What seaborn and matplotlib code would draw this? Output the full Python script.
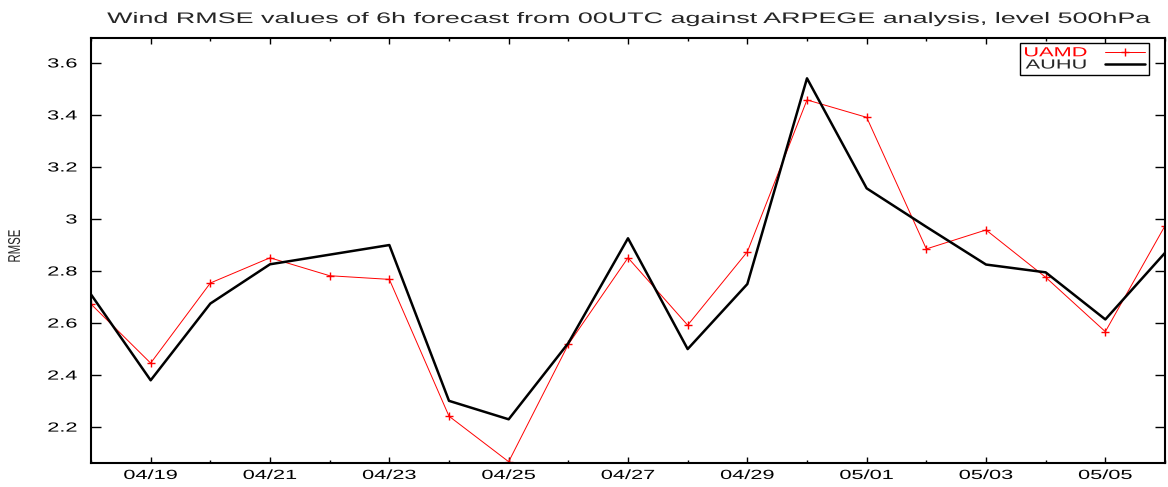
import pandas as pd
import matplotlib
matplotlib.use("Agg")
import matplotlib.pyplot as plt
import matplotlib.dates as mdates
import seaborn as sns
from matplotlib.patheffects import AbstractPathEffect
from matplotlib.ticker import MultipleLocator, FormatStrFormatter
from matplotlib.transforms import Affine2D

# data
days = ["04/18", "04/19", "04/20", "04/21", "04/22", "04/23", "04/24", "04/25",
        "04/26", "04/27", "04/28", "04/29", "04/30", "05/01", "05/02", "05/03",
        "05/04", "05/05", "05/06"]
uamd = [2.673, 2.446, 2.754, 2.851, 2.782, 2.768, 2.242, 2.067, 2.518, 2.851,
        2.592, 2.874, 3.458, 3.391, 2.885, 2.958, 2.776, 2.567, 2.974]
auhu = [2.710, 2.380, 2.675, 2.826, 2.863, 2.900, 2.301, 2.230, 2.523, 2.926,
        2.500, 2.750, 3.541, 3.118, 2.970, 2.825, 2.795, 2.614, 2.870]

title = "Wind RMSE values of 6h forecast from 00UTC against ARPEGE analysis, level 500hPa"

dates = pd.to_datetime(days, format="%m/%d")
df = pd.DataFrame({"date": dates, "UAMD": uamd, "AUHU": auhu})


# the original gnuplot image is stretched sideways, text included
class Stretch(AbstractPathEffect):
    def __init__(self, sx=1.65, anchor="center"):
        super().__init__()
        self.sx = sx
        self.anchor = anchor

    def draw_path(self, renderer, gc, tpath, affine, rgbFace=None):
        ext = tpath.get_extents(affine)
        x0 = {"left": ext.x0, "center": (ext.x0 + ext.x1) / 2, "right": ext.x1}[self.anchor]
        tr = affine + Affine2D().translate(-x0, 0).scale(self.sx, 1).translate(x0, 0)
        renderer.draw_path(gc, tpath, tr, rgbFace)


sns.set_style("ticks")
plt.rcParams["font.family"] = ["Liberation Sans", "DejaVu Sans"]

fig = plt.figure(figsize=(11.68, 4.87), dpi=100)
ax = fig.add_axes([91 / 1168, 1 - 463 / 487, 1074 / 1168, 425 / 487])

sns.lineplot(data=df, x="date", y="UAMD", ax=ax, color="red", linewidth=0.7,
             marker="+", markersize=6, markeredgecolor="red", markeredgewidth=1.0,
             label="UAMD")
sns.lineplot(data=df, x="date", y="AUHU", ax=ax, color="black", linewidth=1.8,
             label="AUHU")

ax.set_xlim(dates[0], dates[-1])
ax.set_ylim(2.062, 3.696)

ax.xaxis.set_major_locator(mdates.DayLocator(bymonthday=list(range(1, 32, 2))))
ax.xaxis.set_minor_locator(mdates.DayLocator())
ax.xaxis.set_major_formatter(mdates.DateFormatter("%m/%d"))
ax.yaxis.set_major_locator(MultipleLocator(0.2))
ax.yaxis.set_major_formatter(FormatStrFormatter("%g"))

ax.tick_params(axis="both", which="both", direction="in", top=True, right=True,
               colors="black", labelsize=9.5)
ax.tick_params(axis="y", which="major", length=7, width=1, pad=10)
ax.tick_params(axis="x", which="major", length=4, width=1, pad=5)
ax.tick_params(axis="x", which="minor", length=2, width=1)

for s in ax.spines.values():
    s.set_linewidth(1.5)
    s.set_color("black")

ax.set_title(title, fontsize=11, pad=10.8, path_effects=[Stretch(1.76)])
ax.set_xlabel("")
ax.set_ylabel("RMSE", fontsize=8.2, va="center", path_effects=[Stretch(1.5)])
ax.yaxis.set_label_coords(-0.0708, 0.51)

leg = ax.legend(loc="upper right", bbox_to_anchor=(0.985, 0.988), borderaxespad=0,
                markerfirst=False, frameon=True, fancybox=False, framealpha=1,
                edgecolor="black", fontsize=9.5, handlelength=3.0,
                handletextpad=3.2, labelspacing=0.0, borderpad=0.3)
leg.get_frame().set_linewidth(1.0)
leg.get_texts()[0].set_color("red")
for t in leg.get_texts():
    t.set_path_effects([Stretch(anchor="left")])

plt.setp(ax.get_xticklabels(), path_effects=[Stretch()])
plt.setp(ax.get_yticklabels(), path_effects=[Stretch(anchor="right")])

fig.savefig("out.png", dpi=100)
